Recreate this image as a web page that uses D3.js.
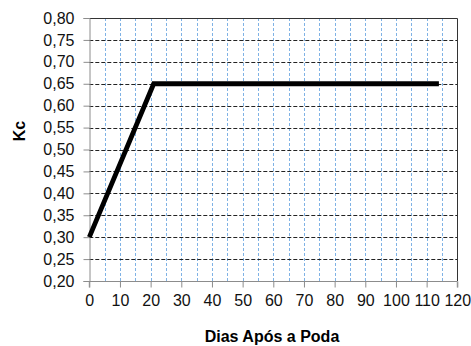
<!DOCTYPE html>
<html><head><meta charset="utf-8">
<script src="https://cdn.jsdelivr.net/npm/d3@7"></script>
<style>body{margin:0;background:#fff}svg{display:block}text{font-family:"Liberation Sans",Arial,sans-serif}</style>
</head><body>
<script>
const days = [0, 21, 114];
const kc = [0.30, 0.65, 0.65];
const xTicks = [0,10,20,30,40,50,60,70,80,90,100,110,120];
const yTicks = [0.20,0.25,0.30,0.35,0.40,0.45,0.50,0.55,0.60,0.65,0.70,0.75,0.80];
const xTitle = "Dias Após a Poda";
const yTitle = "Kc";

const W = 471, H = 346;
const svg = d3.select("body").append("svg").attr("width", W).attr("height", H);
const x = d3.scaleLinear().domain([0,120]).range([89.3, 457.3]);
const y = d3.scaleLinear().domain([0.20,0.80]).range([281, 18]);
const fmt = d => d.toFixed(2).replace(".", ",");

// vertical blue gridlines every 5
const vGrid = d3.range(5, 120, 5);
svg.append("g").selectAll("line").data(vGrid).join("line")
  .attr("x1", d => Math.round(x(d))+0.5).attr("x2", d => Math.round(x(d))+0.5)
  .attr("y1", y(0.80)).attr("y2", y(0.20))
  .attr("stroke", "#7fb2e5").attr("stroke-width", 1).attr("stroke-dasharray", "3,2");
// horizontal black dashed gridlines
svg.append("g").selectAll("line").data(yTicks.filter(d => d > 0.201 && d < 0.799)).join("line")
  .attr("x1", x(0)).attr("x2", x(120))
  .attr("y1", d => Math.round(y(d))+0.5).attr("y2", d => Math.round(y(d))+0.5)
  .attr("stroke", "#222").attr("stroke-width", 1).attr("stroke-dasharray", "4,2");
// border top & right
svg.append("path").attr("d", `M${x(0)},${Math.round(y(0.8))+0.5}H${Math.round(x(120))+0.5}V${y(0.2)}`)
  .attr("fill","none").attr("stroke","#333").attr("stroke-width",1);

// axes
const xAxis = d3.axisBottom(x).tickValues(xTicks).tickSize(6).tickPadding(7).tickFormat(d3.format("d"));
const gx = svg.append("g").attr("transform", `translate(0,${Math.round(y(0.2))+0.5})`).call(xAxis);
const yAxis = d3.axisLeft(y).tickValues(yTicks).tickSize(6).tickPadding(9).tickFormat(fmt);
const gy = svg.append("g").attr("transform", `translate(${Math.round(x(0))+0.5},0)`).call(yAxis);
[gx, gy].forEach(g => {
  g.select(".domain").attr("stroke", "#8c8c8c");
  g.selectAll(".tick line").attr("stroke", "#8c8c8c");
  g.selectAll("text").attr("fill", "#111").style("font-size", "16px").style("font-family", "'Liberation Sans',Arial,sans-serif");
});
gx.select(".domain").attr("d", `M${x(0)},6V0H${x(120)}V6`);

// line
const pts = days.map((d,i) => [d, kc[i]]);
svg.append("path").datum(pts)
  .attr("d", d3.line().x(d => x(d[0])).y(d => y(d[1])))
  .attr("fill","none").attr("stroke","#000").attr("stroke-width",4.8).attr("stroke-linejoin","miter");

// titles
svg.append("text").attr("x", 272).attr("y", 342).attr("text-anchor","middle")
  .style("font-size","16px").style("font-weight","bold").text(xTitle);
svg.append("text").attr("transform","translate(25,131) rotate(-90)").attr("text-anchor","middle")
  .style("font-size","16px").style("font-weight","bold").text(yTitle);
</script>
</body></html>
